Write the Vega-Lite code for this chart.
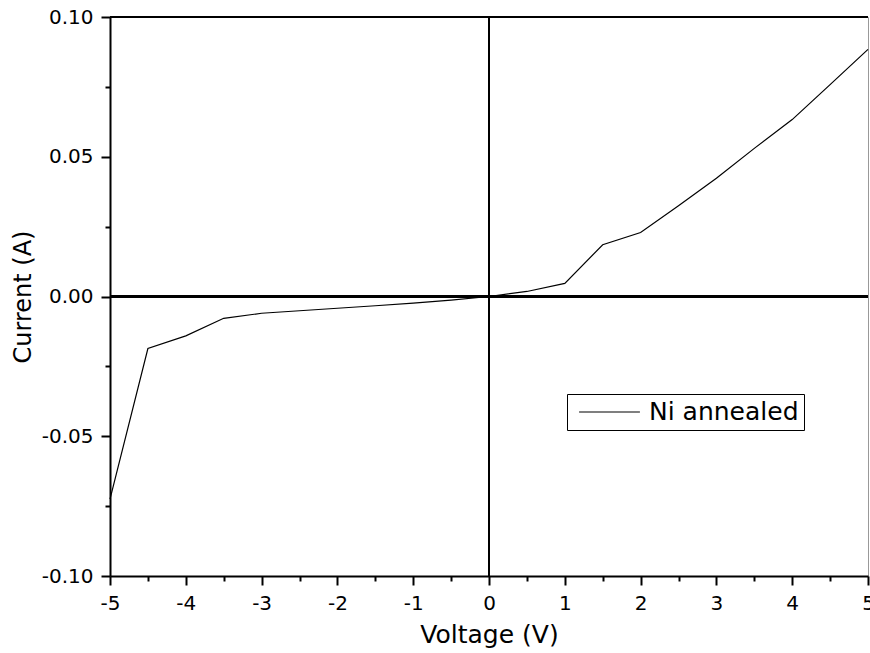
{
  "$schema": "https://vega.github.io/schema/vega-lite/v6.json",
  "width": 758,
  "height": 559,
  "autosize": "none",
  "padding": {"left": 110, "top": 17, "right": 2, "bottom": 77},
  "background": "white",
  "config": {
    "font": "DejaVu Sans",
    "view": {"stroke": "#999999", "strokeWidth": 1}
  },
  "data": {
    "values": [
      {"voltage": -5, "current": -0.0725, "series": "Ni annealed"},
      {"voltage": -4.5, "current": -0.0186, "series": "Ni annealed"},
      {"voltage": -4, "current": -0.0141, "series": "Ni annealed"},
      {"voltage": -3.5, "current": -0.0078, "series": "Ni annealed"},
      {"voltage": -3, "current": -0.006, "series": "Ni annealed"},
      {"voltage": -2.5, "current": -0.0051, "series": "Ni annealed"},
      {"voltage": -2, "current": -0.0042, "series": "Ni annealed"},
      {"voltage": -1.5, "current": -0.0033, "series": "Ni annealed"},
      {"voltage": -1, "current": -0.0024, "series": "Ni annealed"},
      {"voltage": -0.5, "current": -0.0013, "series": "Ni annealed"},
      {"voltage": 0, "current": 0, "series": "Ni annealed"},
      {"voltage": 0.5, "current": 0.0018, "series": "Ni annealed"},
      {"voltage": 1, "current": 0.0047, "series": "Ni annealed"},
      {"voltage": 1.5, "current": 0.0185, "series": "Ni annealed"},
      {"voltage": 2, "current": 0.0229, "series": "Ni annealed"},
      {"voltage": 2.5, "current": 0.0325, "series": "Ni annealed"},
      {"voltage": 3, "current": 0.0423, "series": "Ni annealed"},
      {"voltage": 3.5, "current": 0.053, "series": "Ni annealed"},
      {"voltage": 4, "current": 0.0633, "series": "Ni annealed"},
      {"voltage": 4.5, "current": 0.0758, "series": "Ni annealed"},
      {"voltage": 5, "current": 0.0884, "series": "Ni annealed"}
    ]
  },
  "resolve": {"axis": {"x": "independent", "y": "independent"}},
  "layer": [
    {
      "mark": {"type": "rule", "color": "black", "strokeWidth": 2},
      "encoding": {
        "x": {
          "datum": 0,
          "type": "quantitative",
          "axis": {
            "orient": "bottom",
            "values": [-4.5, -3.5, -2.5, -1.5, -0.5, 0.5, 1.5, 2.5, 3.5, 4.5],
            "labels": false,
            "domain": false,
            "grid": false,
            "ticks": true,
            "tickSize": 5,
            "tickWidth": 2,
            "tickColor": "black",
            "title": null
          }
        }
      }
    },
    {
      "mark": {"type": "rule", "color": "black", "strokeWidth": 2},
      "encoding": {
        "y": {
          "datum": 0,
          "type": "quantitative",
          "axis": {
            "orient": "left",
            "values": [-0.075, -0.025, 0.025, 0.075],
            "labels": false,
            "domain": false,
            "grid": false,
            "ticks": true,
            "tickSize": 5,
            "tickWidth": 2,
            "tickColor": "black",
            "title": null
          }
        }
      }
    },
    {
      "mark": {"type": "rule", "color": "black", "strokeWidth": 2},
      "encoding": {
        "y": {"datum": 0.1, "type": "quantitative", "axis": null}
      }
    },
    {
      "mark": {"type": "line", "strokeWidth": 1.2},
      "encoding": {
        "x": {
          "field": "voltage",
          "type": "quantitative",
          "scale": {"domain": [-5, 5], "nice": false, "zero": false},
          "axis": {
            "orient": "bottom",
            "title": "Voltage (V)",
            "values": [-5, -4, -3, -2, -1, 0, 1, 2, 3, 4, 5],
            "format": "d",
            "labelExpr": "replace(datum.label, '\u2212', '-')",
            "grid": false,
            "domainColor": "black",
            "domainWidth": 2,
            "tickColor": "black",
            "tickWidth": 2,
            "tickSize": 9,
            "labelFontSize": 20,
            "labelColor": "black",
            "labelPadding": 8,
            "labelFlush": false,
            "titleFontSize": 25,
            "titleFontWeight": "normal",
            "titleColor": "black",
            "titlePadding": 9
          }
        },
        "y": {
          "field": "current",
          "type": "quantitative",
          "scale": {"domain": [-0.1, 0.1], "nice": false, "zero": false},
          "axis": {
            "orient": "left",
            "title": "Current (A)",
            "values": [-0.1, -0.05, 0, 0.05, 0.1],
            "format": ".2f",
            "labelExpr": "replace(datum.label, '\u2212', '-')",
            "grid": false,
            "domainColor": "black",
            "domainWidth": 2,
            "tickColor": "black",
            "tickWidth": 2,
            "tickSize": 9,
            "labelFontSize": 20,
            "labelColor": "black",
            "labelPadding": 8,
            "labelFlush": false,
            "titleFontSize": 24,
            "titleFontWeight": "normal",
            "titleColor": "black",
            "titlePadding": 6
          }
        },
        "color": {
          "field": "series",
          "type": "nominal",
          "scale": {"range": ["black"]},
          "legend": {
            "orient": "none",
            "legendX": 457,
            "legendY": 377,
            "title": null,
            "symbolType": "stroke",
            "symbolSize": 3700,
            "symbolStrokeWidth": 1.2,
            "symbolOffset": 6,
            "clipHeight": 26,
            "labelFontSize": 25,
            "labelColor": "black",
            "labelOffset": 8,
            "strokeColor": "black",
            "padding": 5,
            "fillColor": "white"
          }
        }
      }
    }
  ]
}
